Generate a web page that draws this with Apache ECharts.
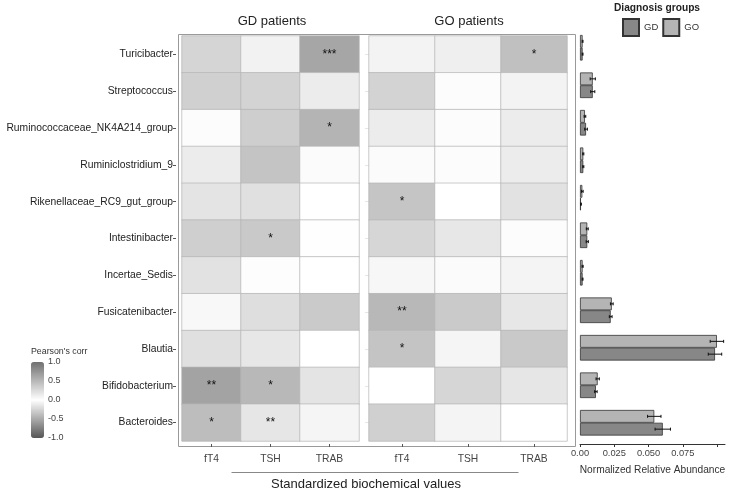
<!DOCTYPE html>
<html>
<head>
<meta charset="utf-8">
<script src="https://cdn.jsdelivr.net/npm/echarts@6/dist/echarts.min.js"></script>
<style>
  html, body { margin: 0; padding: 0; background: #fff; }
  #chart { width: 737px; height: 492px; }
</style>
</head>
<body>
<div id="chart"></div>
<script>
// Genera (rows, top to bottom) and biochemical variables
const genera = ['Turicibacter', 'Streptococcus', 'Ruminococcaceae_NK4A214_group', 'Ruminiclostridium_9',
    'Rikenellaceae_RC9_gut_group', 'Intestinibacter', 'Incertae_Sedis', 'Fusicatenibacter',
    'Blautia', 'Bifidobacterium', 'Bacteroides'];
const variables = ['fT4', 'TSH', 'TRAB'];

// Pearson correlations, one array per column (same order as genera)
const gdFT4 = [-0.25, 0.33, 0.02, -0.11, 0.19, -0.28, 0.20, -0.04, 0.22, -0.54, 0.46];
const gdTSH = [0.09, -0.26, -0.29, 0.41, -0.18, 0.38, -0.01, 0.23, -0.14, 0.50, -0.15];
const gdTRAB = [0.62, 0.13, -0.44, 0.03, 0.00, 0.01, 0.00, -0.31, 0.00, -0.16, 0.07];
const goFT4 = [-0.07, 0.31, -0.11, 0.03, -0.34, 0.29, -0.05, 0.50, -0.35, 0.00, 0.33];
const goTSH = [0.11, -0.02, 0.02, -0.02, 0.00, -0.14, 0.03, -0.31, 0.07, -0.24, 0.08];
const goTRAB = [0.44, -0.07, 0.13, -0.11, 0.20, -0.02, 0.08, -0.14, 0.38, -0.15, 0.00];

// significance marks
const gdStarsFT4 = ['', '', '', '', '', '', '', '', '', '**', '*'];
const gdStarsTSH = ['', '', '', '', '', '*', '', '', '', '*', '**'];
const gdStarsTRAB = ['***', '', '*', '', '', '', '', '', '', '', ''];
const goStarsFT4 = ['', '', '', '', '*', '', '', '**', '*', '', ''];
const goStarsTSH = ['', '', '', '', '', '', '', '', '', '', ''];
const goStarsTRAB = ['*', '', '', '', '', '', '', '', '', '', ''];

// normalized relative abundance (mean, se)
const gdMean = [0.0019, 0.0093, 0.0044, 0.0024, 0.0007, 0.0053, 0.0019, 0.0224, 0.0985, 0.0116, 0.0604];
const gdSe = [0.0003, 0.0015, 0.0010, 0.0004, 0.0003, 0.0008, 0.0003, 0.0010, 0.0049, 0.0009, 0.0056];
const goMean = [0.0019, 0.0093, 0.0036, 0.0024, 0.0017, 0.0053, 0.0019, 0.0232, 0.0999, 0.0129, 0.0542];
const goSe = [0.0003, 0.0019, 0.0006, 0.0004, 0.0006, 0.0007, 0.0004, 0.0010, 0.0049, 0.0012, 0.0049];

const abundanceTicks = [0, 0.025, 0.05, 0.075, 0.1];
const abundanceLabels = [0, 0.025, 0.05, 0.075];
const corrTicks = [1.0, 0.5, 0.0, -0.5, -1.0];

const FONT = '"Liberation Sans", Arial, sans-serif';

// build heatmap rows [x, y, value, stars]
const buildCells = (cols, stars) => {
    const out = [];
    cols.forEach((col, x) => {
        col.forEach((v, y) => out.push([x, y, v, stars[x][y]]));
    });
    return out;
};
const gdCells = buildCells([gdFT4, gdTSH, gdTRAB], [gdStarsFT4, gdStarsTSH, gdStarsTRAB]);
const goCells = buildCells([goFT4, goTSH, goTRAB], [goStarsFT4, goStarsTSH, goStarsTRAB]);

const BAR_W = 12.8;

// error bars drawn through the axis scale
const errorBar = (means, ses, shift) => ({
    type: 'custom',
    xAxisIndex: 2, yAxisIndex: 2,
    z: 5,
    silent: true,
    data: means.map((m, i) => [m - ses[i], m + ses[i], i]),
    renderItem: (params, api) => {
        const a = api.coord([api.value(0), api.value(2)]);
        const b = api.coord([api.value(1), api.value(2)]);
        const y = a[1] + shift;
        const style = { stroke: '#111', lineWidth: 1 };
        return {
            type: 'group',
            children: [
                { type: 'line', shape: { x1: a[0], y1: y, x2: b[0], y2: y }, style },
                { type: 'line', shape: { x1: a[0], y1: y - 1.5, x2: a[0], y2: y + 1.5 }, style },
                { type: 'line', shape: { x1: b[0], y1: y - 1.5, x2: b[0], y2: y + 1.5 }, style }
            ]
        };
    }
});

const chart = echarts.init(document.getElementById('chart'), null, { renderer: 'canvas' });

const heatLabel = {
    show: true,
    formatter: p => p.data[3],
    color: '#111',
    fontSize: 12,
    fontFamily: FONT
};

const catX = (gridIndex) => ({
    type: 'category', gridIndex, data: variables, position: 'bottom', offset: 3,
    axisLine: { show: false },
    axisTick: { show: true, alignWithLabel: true, length: 3, lineStyle: { color: '#555' } },
    axisLabel: { margin: 10, color: '#444', fontSize: 10.3, fontFamily: FONT },
    splitLine: { show: false }
});

// legend tick texts for the colour bar
const cbTop = 362, cbH = 76;
const corrTickText = corrTicks.map(v => ({
    type: 'text',
    left: 48,
    top: cbTop + (1 - v) / 2 * cbH - 5,
    style: { text: v.toFixed(1), fill: '#444', font: '9px ' + FONT }
}));

chart.setOption({
    animation: false,
    textStyle: { fontFamily: FONT },
    title: [
        { text: 'GD patients', left: 272, top: 15, textAlign: 'center', padding: 0,
          textStyle: { fontSize: 13, fontWeight: 'normal', color: '#222', fontFamily: FONT } },
        { text: 'GO patients', left: 469, top: 15, textAlign: 'center', padding: 0,
          textStyle: { fontSize: 13, fontWeight: 'normal', color: '#222', fontFamily: FONT } },
        { text: 'Standardized biochemical values', left: 366, top: 477.5, textAlign: 'center', padding: 0,
          textStyle: { fontSize: 13, fontWeight: 'normal', color: '#222', fontFamily: FONT } },
        { text: 'Diagnosis groups', left: 657, top: 3.5, textAlign: 'center', padding: 0,
          textStyle: { fontSize: 10.2, fontWeight: 'bold', color: '#222', fontFamily: FONT } },
        { text: "Pearson's corr", left: 31, top: 347.5, padding: 0,
          textStyle: { fontSize: 8.8, fontWeight: 'normal', color: '#333', fontFamily: FONT } }
    ],
    legend: {
        data: ['GD', 'GO'],
        left: 622, top: 18, padding: 0,
        itemWidth: 16, itemHeight: 17, itemGap: 4,
        icon: 'rect',
        textStyle: { fontSize: 9.5, color: '#333', fontFamily: FONT }
    },
    visualMap: {
        type: 'continuous',
        min: -1, max: 1,
        dimension: 2,
        seriesIndex: [0, 1],
        calculable: false,
        text: null,
        padding: 0,
        left: 31, top: cbTop,
        itemWidth: 13, itemHeight: cbH,
        inRange: { color: ['#555555', '#ffffff', '#707070'] }
    },
    grid: [
        { left: 182, top: 36, width: 177, height: 405, outerBoundsMode: 'none' },
        { left: 369, top: 36, width: 198, height: 405, outerBoundsMode: 'none' },
        { left: 580, top: 29, width: 145, height: 412.5, outerBoundsMode: 'none' }
    ],
    xAxis: [
        catX(0),
        catX(1),
        {
            type: 'value', gridIndex: 2, min: 0, max: 0.1058, offset: 2.5,
            axisLine: { show: true, lineStyle: { color: '#333', width: 1 } },
            axisTick: { show: true, length: 3, customValues: abundanceTicks, lineStyle: { color: '#333' } },
            axisLabel: {
                customValues: abundanceLabels, margin: 5, color: '#444', fontSize: 9.3, fontFamily: FONT,
                formatter: v => (v === 0 ? '0.00' : v.toFixed(3))
            },
            splitLine: { show: false },
            name: 'Normalized Relative Abundance',
            nameLocation: 'middle', nameGap: 21,
            nameTextStyle: { fontSize: 10.2, color: '#333', fontFamily: FONT }
        }
    ],
    yAxis: [
        {
            type: 'category', gridIndex: 0, data: genera, inverse: true, offset: 6,
            axisLine: { show: false },
            axisTick: { show: true, alignWithLabel: true, length: 3, lineStyle: { color: '#555' } },
            axisLabel: { margin: 3, color: '#222', fontSize: 10.3, fontFamily: FONT },
            splitLine: { show: false }
        },
        {
            type: 'category', gridIndex: 1, data: genera, inverse: true,
            axisLine: { show: false },
            axisTick: { show: true, alignWithLabel: true, length: 4, lineStyle: { color: '#e6e6e6' } },
            axisLabel: { show: false },
            splitLine: { show: false }
        },
        {
            type: 'category', gridIndex: 2, data: genera, inverse: true,
            axisLine: { show: false }, axisTick: { show: false }, axisLabel: { show: false }
        }
    ],
    series: [
        {
            name: 'GD corr', type: 'heatmap', xAxisIndex: 0, yAxisIndex: 0,
            data: gdCells, label: heatLabel,
            itemStyle: { borderColor: '#b5b5b5', borderWidth: 0.7 }
        },
        {
            name: 'GO corr', type: 'heatmap', xAxisIndex: 1, yAxisIndex: 1,
            data: goCells, label: heatLabel,
            itemStyle: { borderColor: '#b5b5b5', borderWidth: 0.7 }
        },
        {
            name: 'GO', type: 'bar', xAxisIndex: 2, yAxisIndex: 2,
            data: goMean, barWidth: BAR_W, barGap: '0%',
            itemStyle: { color: '#b4b4b4', borderColor: '#333', borderWidth: 0.8 }
        },
        {
            name: 'GD', type: 'bar', xAxisIndex: 2, yAxisIndex: 2,
            data: gdMean, barWidth: BAR_W, barGap: '0%',
            itemStyle: { color: '#878787', borderColor: '#333', borderWidth: 0.8 }
        },
        errorBar(goMean, goSe, -BAR_W / 2),
        errorBar(gdMean, gdSe, BAR_W / 2)
    ],
    graphic: [
        {
            type: 'rect', left: 176, top: 32, silent: true, z: -1,
            shape: { width: 397, height: 412 },
            style: { fill: 'none', stroke: '#9a9a9a', lineWidth: 1 }
        },
        {
            type: 'line', left: 229, top: 470, silent: true,
            shape: { x1: 0, y1: 0, x2: 287, y2: 0 },
            style: { stroke: '#888', lineWidth: 1 }
        }
    ].concat(corrTickText)
});
</script>
</body>
</html>
